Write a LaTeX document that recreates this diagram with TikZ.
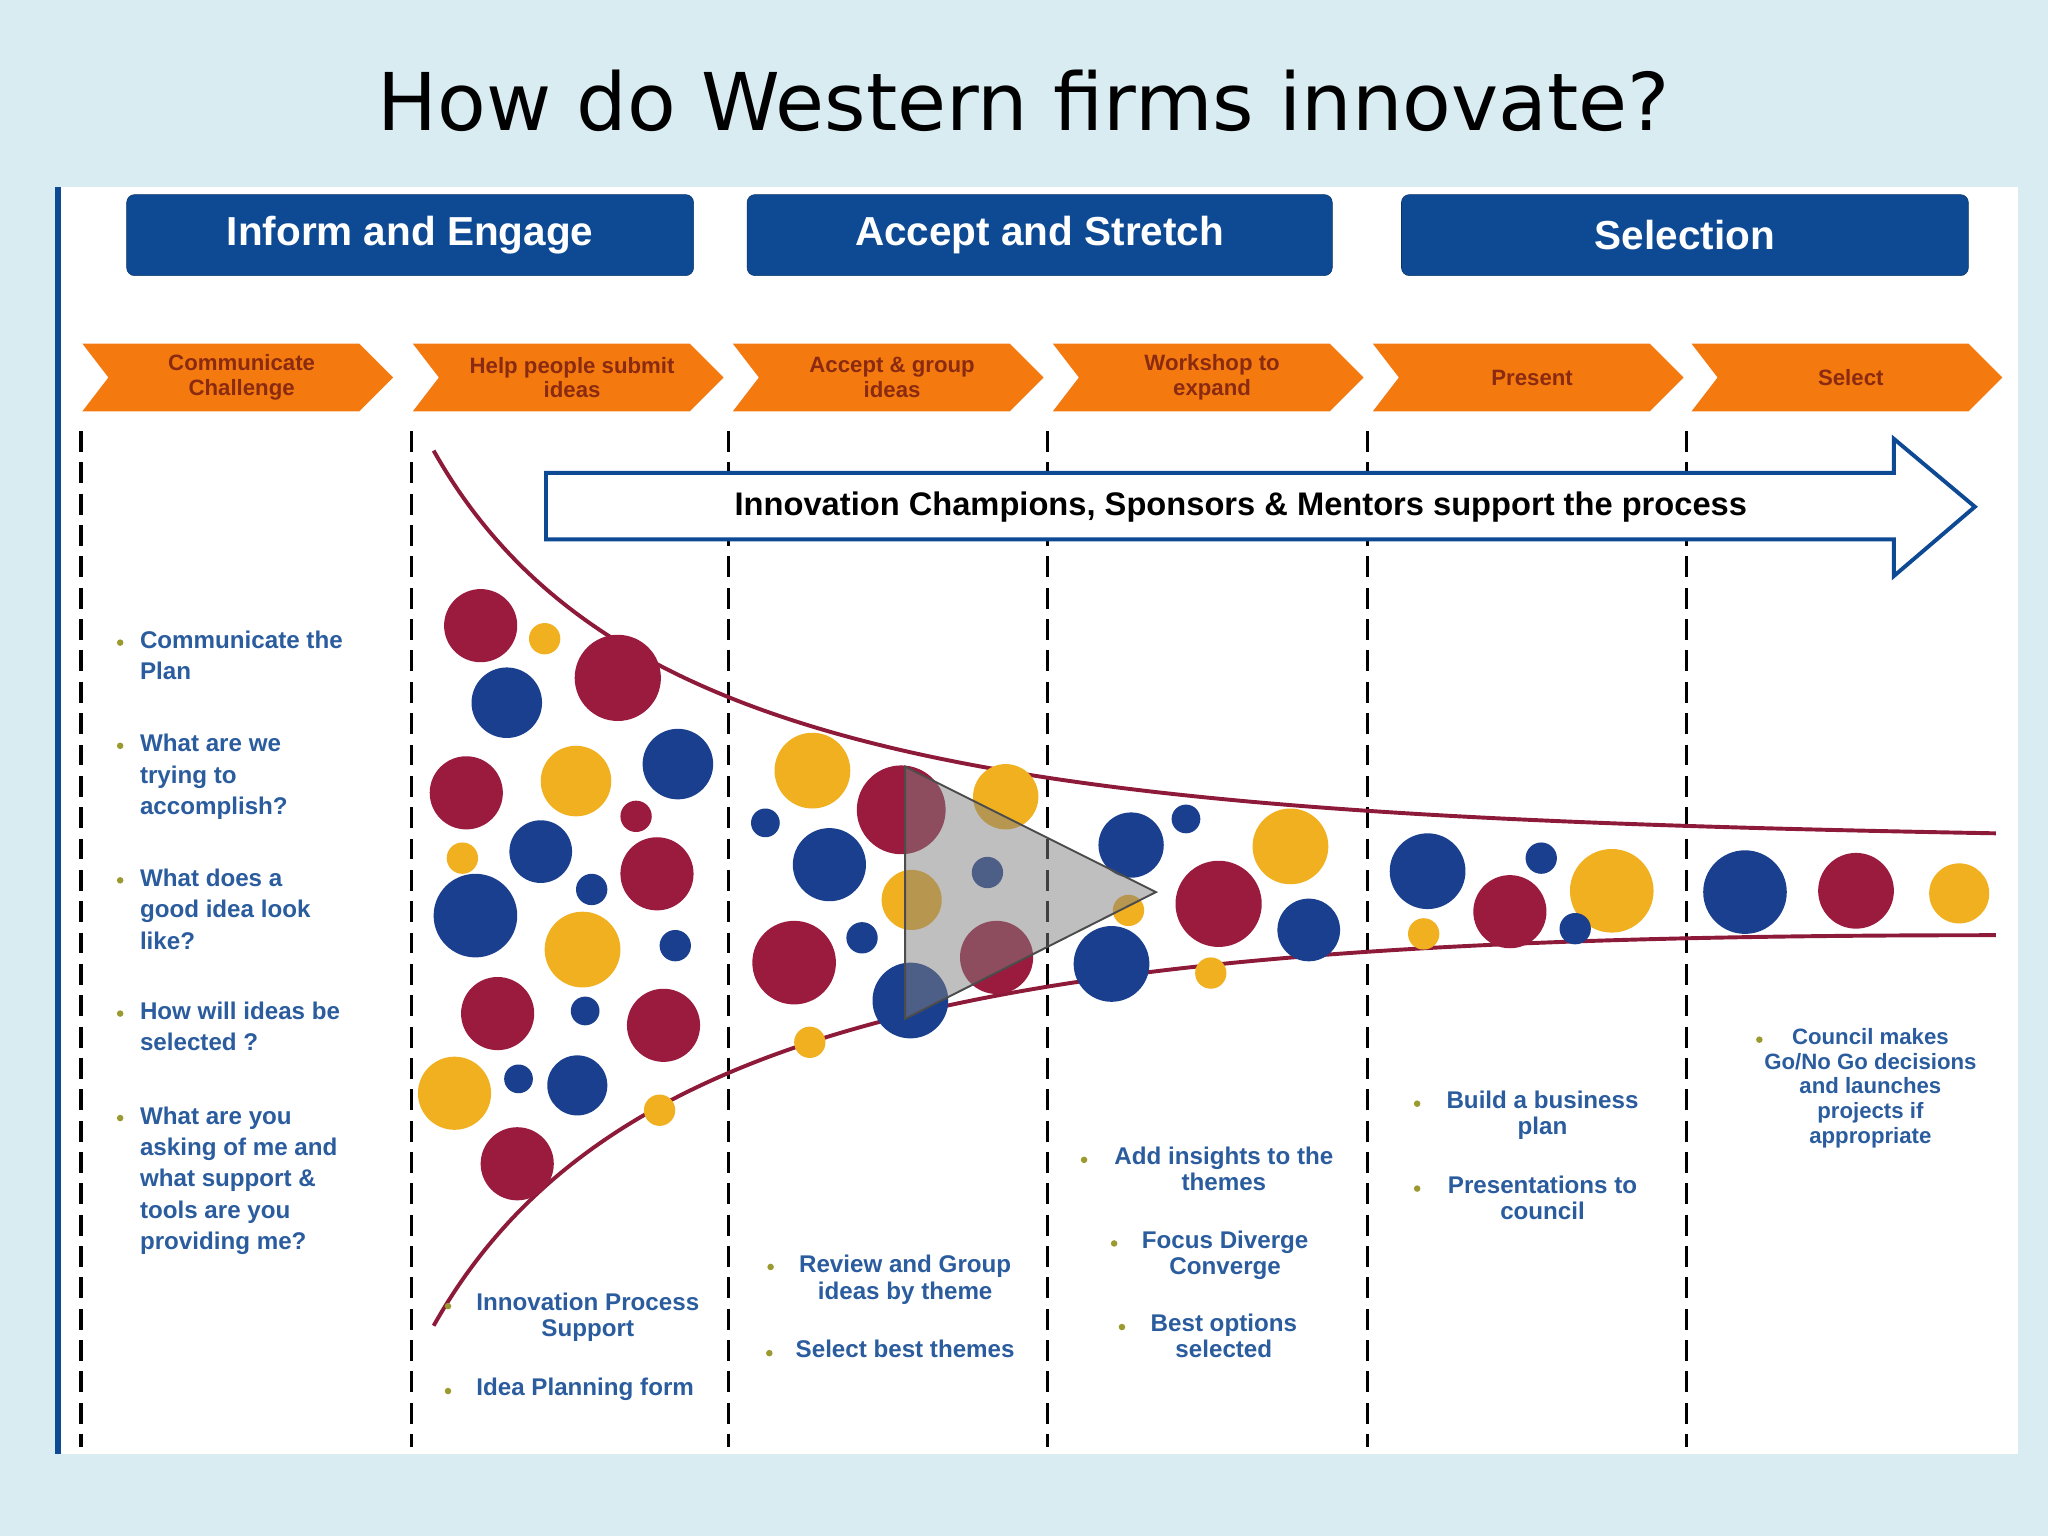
\documentclass[tikz,border=0pt]{standalone}
\usepackage{fontspec}
\setmainfont{DejaVu Sans}
\newfontfamily\bodyf{Liberation Sans}
\definecolor{bgc}{HTML}{D9ECF2}
\definecolor{hdr}{HTML}{0E4A94}
\definecolor{orng}{HTML}{F47A10}
\definecolor{chtx}{HTML}{8A2A10}
\definecolor{mar}{HTML}{9B1B3F}
\definecolor{nav}{HTML}{1A3F8F}
\definecolor{gld}{HTML}{F0B020}
\definecolor{txb}{HTML}{2A5C9E}
\definecolor{bul}{HTML}{9A9A30}
\definecolor{fun}{HTML}{8E1A3A}
\begin{document}
\begin{tikzpicture}[x=1pt,y=-1pt,
 hdrbox/.style={fill=hdr,draw=hdr!70!black,rounded corners=6pt,text=white,font=\bodyf\bfseries\fontsize{31}{36}\selectfont,inner sep=0pt},
 btxt/.style={text=txb,font=\bodyf\bfseries\fontsize{18.5}{24}\selectfont,align=left,anchor=north west,inner sep=0pt},
 ctxt/.style={text=txb,font=\bodyf\bfseries\fontsize{18.5}{20}\selectfont,align=center,anchor=north,inner sep=0pt},
 chev/.style={text=chtx,font=\bodyf\bfseries\fontsize{17}{19}\selectfont,align=center},
 dline/.style={black,line width=2.5pt,dash pattern=on 16pt off 8pt}]
\fill[bgc] (0,0) rectangle (1568,1176);
\useasboundingbox (0,0) rectangle (1568,1176);
\node[font=\fontsize{61}{70}\selectfont] (title) at (784,77) {How do Western firms innovate?};
\fill[white] (42,143) rectangle (1545,1113);
\fill[hdr] (42,143) rectangle (47,1113);
% headers
\node[hdrbox,minimum width=434pt,minimum height=62pt] (h1) at (314,180) {\raisebox{-4pt}{Inform and Engage}};
\node[hdrbox,minimum width=448pt,minimum height=62pt] (h2) at (796,180) {\raisebox{-4pt}{Accept and Stretch}};
\node[hdrbox,minimum width=434pt,minimum height=62pt] (h3) at (1290,180) {Selection};
% chevrons
\foreach \x/\t [count=\i] in {63/{Communicate\\Challenge},316/{Help people submit\\ideas},561/{Accept \& group\\ideas},806/{Workshop to\\expand},1051/{Present},1295/{Select}}{
 \fill[orng] (\x,263) -- (\x+212,263) -- (\x+238,289) -- (\x+212,315) -- (\x,315) -- (\x+20,289) -- cycle;
 \node[chev] (c\i) at (\x+122,289) {\t};
}
% dashed lines
\foreach \x in {62,315,558,802,1047,1291} \draw[dline] (\x,330) -- (\x,1108);
% big arrow
\draw[hdr,line width=3pt,fill=white] (418,362) -- (1450,362) -- (1450,336) -- (1512,388) -- (1450,441) -- (1450,413) -- (418,413) -- cycle;
\node[font=\bodyf\bfseries\fontsize{25}{30}\selectfont] (arr) at (950,388) {Innovation Champions, Sponsors \& Mentors support the process};
% funnel
\draw[fun,line width=3pt] (332,345) .. controls (470,590) and (800,625) .. (1528,638);
\draw[fun,line width=3pt] (332,1015) .. controls (470,770) and (800,716) .. (1528,716);
% circles
\foreach \x/\y/\r/\c in {368/479/28/mar,417/489/12/gld,473/519/33/mar,388/538/27/nav,357/607/28/mar,441/598/27/gld,519/585/27/nav,487/625/12/mar,354/657/12/gld,414/652/24/nav,453/681/12/nav,503/669/28/mar,364/701/32/nav,446/727/29/gld,517/724/12/nav,381/776/28/mar,448/774/11/nav,508/785/28/mar,348/837/28/gld,397/826/11/nav,442/831/23/nav,505/850/12/gld,396/891/28/mar,
622/590/29/gld,586/630/11/nav,690/620/34/mar,770/610/25/gld,635/662/28/nav,698/689/23/gld,756/668/12/nav,660/718/12/nav,608/737/32/mar,763/733/28/mar,697/766/29/nav,620/798/12/gld,
866/647/25/nav,908/627/11/nav,988/648/29/gld,864/697/12/gld,933/692/33/mar,1002/712/24/nav,851/738/29/nav,927/745/12/gld,
1093/667/29/nav,1180/657/12/nav,1156/698/28/mar,1234/682/32/gld,1090/715/12/gld,1206/711/12/nav,
1336/683/32/nav,1421/682/29/mar,1500/684/23/gld}
 \fill[\c] (\x,\y) circle (\r);
% play button
\fill[gray,opacity=0.5] (693,587) -- (885,683) -- (693,780) -- cycle;
\draw[black!70,line width=1.5pt] (693,587) -- (885,683) -- (693,780) -- cycle;
% text col1
\foreach \y/\t [count=\i] in {483/{Communicate the\\Plan},562/{What are we\\trying to\\accomplish?},665/{What does a\\good idea look\\like?},767/{How will ideas be\\selected ?},847/{What are you\\asking of me and\\what support \&\\tools are you\\providing me?}}{
 \fill[bul] (92,\y+9) circle (2.5);
 \node[btxt] (a\i) at (107,\y) {\t};
}
\fill[bul] (343,1000) circle (2.5); \node[ctxt] (b1) at (450,990) {Innovation Process\\Support};
\fill[bul] (343,1065) circle (2.5); \node[ctxt] (b2) at (448,1055) {Idea Planning form};
\fill[bul] (590,970) circle (2.5); \node[ctxt] (d1) at (693,961) {Review and Group\\ideas by theme};
\fill[bul] (589,1036) circle (2.5); \node[ctxt] (d2) at (693,1026) {Select best themes};
\fill[bul] (830,888) circle (2.5); \node[ctxt] (e1) at (937,878) {Add insights to the\\themes};
\fill[bul] (853,952) circle (2.5); \node[ctxt] (e2) at (938,942) {Focus Diverge\\Converge};
\fill[bul] (859,1016) circle (2.5); \node[ctxt] (e3) at (937,1006) {Best options\\selected};
\fill[bul] (1085,845) circle (2.5); \node[ctxt] (f1) at (1181,835) {Build a business\\plan};
\fill[bul] (1085,910) circle (2.5); \node[ctxt] (f2) at (1181,900) {Presentations to\\council};
\fill[bul] (1347,796) circle (2.5);
\node[text=txb,font=\bodyf\bfseries\fontsize{17}{19}\selectfont,align=center,anchor=north,inner sep=0pt] (g1) at (1432,787) {Council makes\\Go/No Go decisions\\and launches\\projects if\\appropriate};
\end{tikzpicture}
\end{document}
